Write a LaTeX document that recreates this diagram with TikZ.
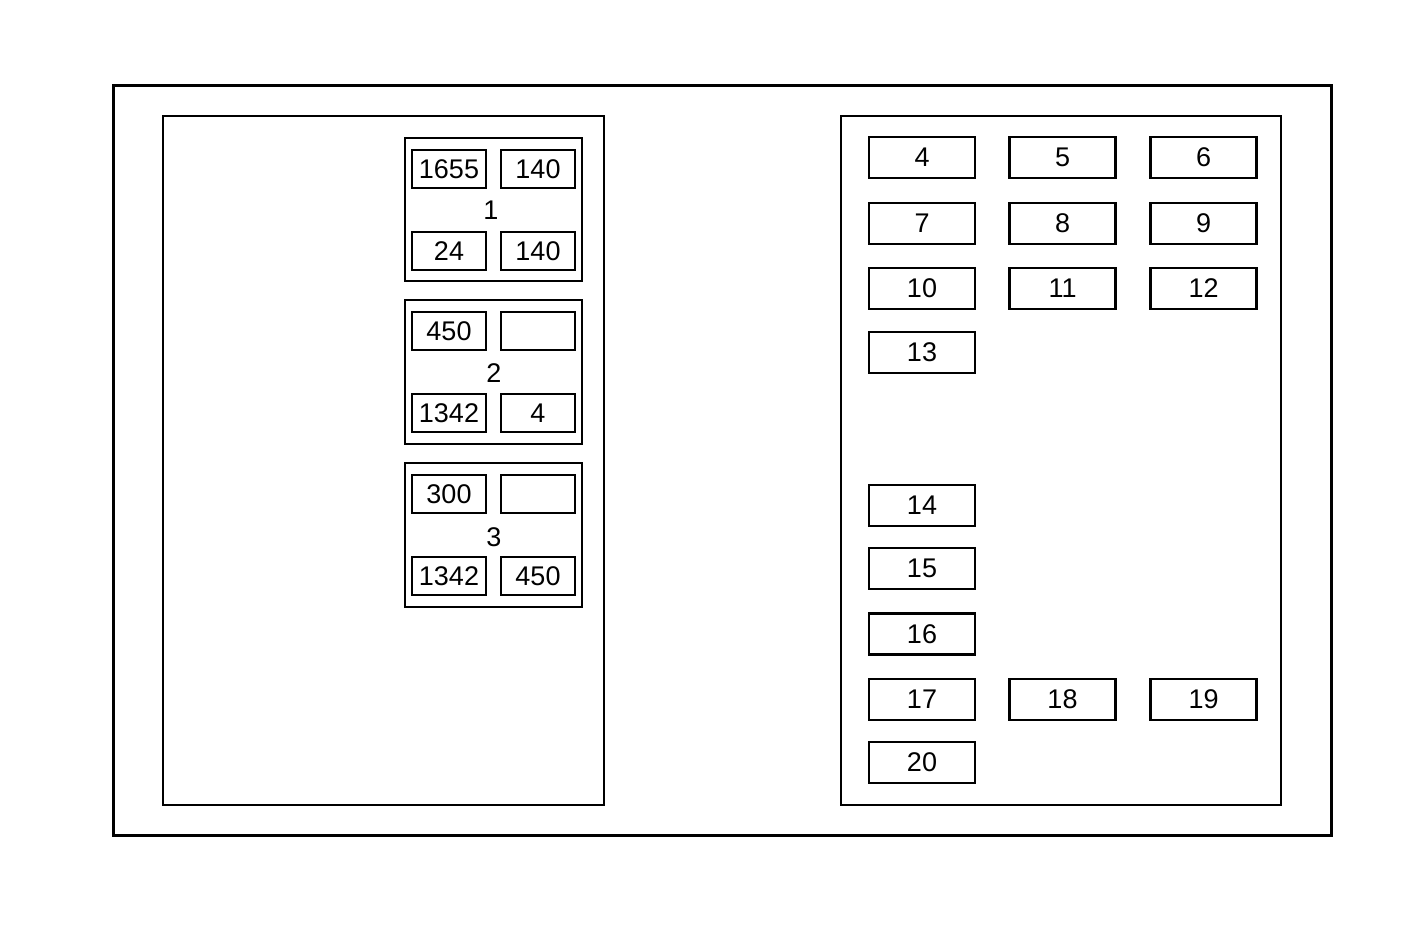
\documentclass[tikz,border=0pt]{standalone}
\usepackage{fontspec}
\setmainfont{Liberation Sans}
\begin{document}
\begin{tikzpicture}[x=1pt,y=-1pt,
  frame/.style={draw,line width=3pt},
  panel/.style={draw,line width=2.5pt},
  cell/.style={draw,line width=2.5pt,minimum width=74pt,minimum height=38pt,inner sep=0pt,font=\fontsize{27}{27}\selectfont},
  fuse/.style={draw,line width=2.5pt,minimum width=106pt,minimum height=41pt,inner sep=0pt,font=\fontsize{27}{27}\selectfont},
  lbl/.style={inner sep=0pt,font=\fontsize{27}{27}\selectfont}]
\useasboundingbox (0,0) rectangle (1426,933);
\draw[frame] (113,86) rectangle (1331,835);
\draw[panel] (163,116) rectangle (604,805);
\draw[panel] (841,116) rectangle (1281,805);
% relay blocks
\draw[panel] (405,138) rectangle (582,281);
\draw[panel] (405,300) rectangle (582,444);
\draw[panel] (405,463) rectangle (582,607);
\node[cell] (a1) at (449,169) {1655};
\node[cell] (a2) at (538,169) {140};
\node[lbl] (a0) at (491,210) {1};
\node[cell] (a3) at (449,251) {24};
\node[cell] (a4) at (538,251) {140};
\node[cell] (b1) at (449,331) {450};
\node[cell] (b2) at (538,331) {};
\node[lbl] (b0) at (494,373) {2};
\node[cell] (b3) at (449,413) {1342};
\node[cell] (b4) at (538,413) {4};
\node[cell] (c1) at (449,494) {300};
\node[cell] (c2) at (538,494) {};
\node[lbl] (c0) at (494,537) {3};
\node[cell] (c3) at (449,576) {1342};
\node[cell] (c4) at (538,576) {450};
% fuses
\node[fuse] (f4) at (922,157.5) {4};
\node[fuse] (f5) at (1062.5,157.5) {5};
\node[fuse] (f6) at (1203.5,157.5) {6};
\node[fuse] (f7) at (922,223.5) {7};
\node[fuse] (f8) at (1062.5,223.5) {8};
\node[fuse] (f9) at (1203.5,223.5) {9};
\node[fuse] (f10) at (922,288.5) {10};
\node[fuse] (f11) at (1062.5,288.5) {11};
\node[fuse] (f12) at (1203.5,288.5) {12};
\node[fuse] (f13) at (922,352.5) {13};
\node[fuse] (f14) at (922,505.5) {14};
\node[fuse] (f15) at (922,568.5) {15};
\node[fuse] (f16) at (922,634) {16};
\node[fuse] (f17) at (922,699.5) {17};
\node[fuse] (f18) at (1062.5,699.5) {18};
\node[fuse] (f19) at (1203.5,699.5) {19};
\node[fuse] (f20) at (922,762.5) {20};
\end{tikzpicture}
\end{document}
